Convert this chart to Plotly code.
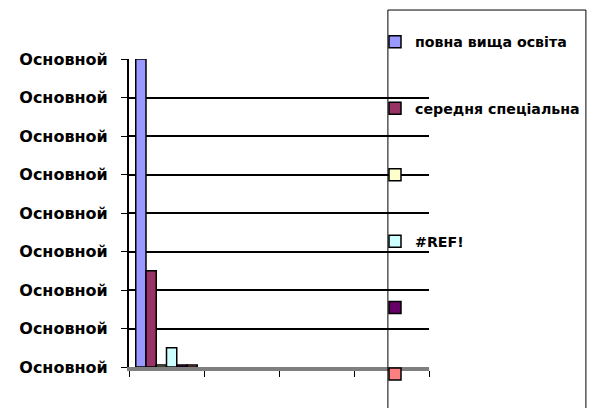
import plotly.graph_objects as go

categories = ["1", "2", "3", "4"]
series_names = ["повна вища освіта", "середня спеціальна", "", "#REF!", "", ""]
series_values = [8.0, 2.5, 0.05, 0.5, 0.05, 0.05]
series_colors = ["#9999FF", "#993366", "#FFFFCC", "#CCFFFF", "#660066", "#FF8080"]
y_tick_values = [0, 1, 2, 3, 4, 5, 6, 7, 8]
y_tick_labels = ["Основной"] * 9

FONT = "DejaVu Sans"

fig = go.Figure()
for i, (name, val, col) in enumerate(zip(series_names, series_values, series_colors)):
    fig.add_trace(go.Bar(
        x=[categories[0]], y=[val], name=name,
        marker=dict(color=col, line=dict(color="black", width=1.5)),
        legendgroup=f"g{i}", showlegend=True,
    ))

fig.update_layout(
    width=600, height=408,
    margin=dict(l=121, r=179, t=51, b=49, autoexpand=False),
    paper_bgcolor="white", plot_bgcolor="white",
    barmode="group", bargap=0.18, bargroupgap=0,
    font=dict(family=FONT, size=16, color="black", weight="bold"),
    showlegend=True,
    legend=dict(
        x=0.82, xanchor="left", y=1.107, yanchor="top",
        bgcolor="rgba(0,0,0,0)", borderwidth=0,
        traceorder="grouped", tracegroupgap=45,
        maxheight=1,
        font=dict(family=FONT, size=14.2, color="black", weight="bold"),
    ),
    xaxis=dict(
        type="category", categoryorder="array", categoryarray=categories,
        range=[-0.5, 3.5], showticklabels=False, tickson="boundaries",
        ticks="outside", ticklen=6, tickcolor="black", tickwidth=1,
        showline=True, linecolor="#7f7f7f", linewidth=4, showgrid=False,
        zeroline=False,
    ),
    yaxis=dict(
        range=[0, 8], tickvals=y_tick_values, ticktext=y_tick_labels,
        ticks="outside", ticklen=6, tickcolor="black", tickwidth=1,
        showline=True, linecolor="black", linewidth=2,
        showgrid=True, gridcolor="black", gridwidth=2, zeroline=False,
        ticklabelstandoff=10,
    ),
    shapes=[dict(
        type="rect", xref="paper", yref="paper",
        x0=0.863, x1=1.523, y0=-0.2, y1=1.159,
        line=dict(color="black", width=1), fillcolor="rgba(0,0,0,0)", layer="above",
    )],
)

fig.write_html("out.html")
